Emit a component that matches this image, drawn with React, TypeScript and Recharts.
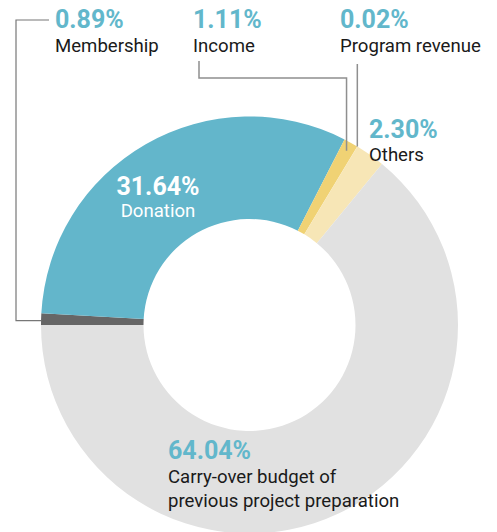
import React from 'react';
import { PieChart, Pie, Cell } from 'recharts';

// ---- data ----
const categories = [
  'Membership',
  'Donation',
  'Income',
  'Program revenue',
  'Others',
  'Carry-over budget of previous project preparation',
];
const shares = [0.89, 31.64, 1.11, 0.02, 2.3, 64.04];
const percentLabels = ['0.89%', '31.64%', '1.11%', '0.02%', '2.30%', '64.04%'];
const nameLines = [
  ['Membership'],
  ['Donation'],
  ['Income'],
  ['Program revenue'],
  ['Others'],
  ['Carry-over budget of', 'previous project preparation'],
];

const data = categories.map((name, i) => ({ name, value: shares[i] }));

// ---- styles / layout ----
const COLORS = ['#666666', '#63b6cb', '#f0d274', '#f3dc93', '#f7e6b6', '#e1e1e1'];
const ACCENT = '#62b7cb';
const FONT = 'Roboto, "Noto Sans", sans-serif';
const W = 497;
const H = 532;
const CX = 249.5;
const CY = 325;
const OUTER = 208.5;
const INNER = 106;

type LabelLayout = {
  x: number;
  y: number;
  anchor: 'start' | 'middle';
  pctColor: string;
  nameColor: string;
  lineGap: number;
};

const LAYOUT: LabelLayout[] = [
  { x: 55, y: 28, anchor: 'start', pctColor: ACCENT, nameColor: '#1a1a1a', lineGap: 24 },
  { x: 158, y: 195, anchor: 'middle', pctColor: '#ffffff', nameColor: '#ffffff', lineGap: 22 },
  { x: 193, y: 28, anchor: 'start', pctColor: ACCENT, nameColor: '#1a1a1a', lineGap: 24 },
  { x: 340, y: 28, anchor: 'start', pctColor: ACCENT, nameColor: '#1a1a1a', lineGap: 24 },
  { x: 369, y: 138, anchor: 'start', pctColor: ACCENT, nameColor: '#1a1a1a', lineGap: 23 },
  { x: 168, y: 459, anchor: 'start', pctColor: ACCENT, nameColor: '#1a1a1a', lineGap: 24 },
];

const RAD = Math.PI / 180;

const renderLabel = (props: any) => {
  const { cx, cy, midAngle, outerRadius, index } = props;
  const L = LAYOUT[index];
  const pt = (r: number) => ({
    x: cx + r * Math.cos(-midAngle * RAD),
    y: cy + r * Math.sin(-midAngle * RAD),
  });

  let leader: React.ReactNode = null;
  if (index === 0) {
    const p = pt(outerRadius);
    leader = (
      <path
        d={`M${p.x},${p.y + 1.5} H16 V20 H49`}
        fill="none"
        stroke="#777777"
        strokeWidth={1.2}
      />
    );
  } else if (index === 2) {
    const p = pt(outerRadius - 9);
    leader = (
      <path
        d={`M199,61 V78 H${p.x} V${p.y}`}
        fill="none"
        stroke="#8f8f8f"
        strokeWidth={1.5}
      />
    );
  } else if (index === 3) {
    const p = pt(outerRadius);
    leader = (
      <path
        d={`M${p.x},64 V${p.y}`}
        fill="none"
        stroke="#8f8f8f"
        strokeWidth={1.5}
      />
    );
  }

  return (
    <g key={`lbl-${index}`}>
      {leader}
      <text
        x={L.x}
        y={L.y}
        textAnchor={L.anchor}
        fill={L.pctColor}
        fontFamily={FONT}
        fontWeight={700}
        fontSize={25}
      >
        {percentLabels[index]}
      </text>
      {nameLines[index].map((ln, j) => (
        <text
          key={j}
          x={L.x}
          y={L.y + L.lineGap * (j + 1)}
          textAnchor={L.anchor}
          fill={L.nameColor}
          fontFamily={FONT}
          fontWeight={400}
          fontSize={18.6}
        >
          {ln}
        </text>
      ))}
    </g>
  );
};

export default function App() {
  return (
    <div style={{ position: 'absolute', left: 0, top: 0, width: W, height: H, background: '#ffffff' }}>
      <PieChart width={W} height={H} margin={{ top: 0, right: 0, bottom: 0, left: 0 }}>
        <Pie
          data={data}
          dataKey="value"
          nameKey="name"
          cx={CX}
          cy={CY}
          innerRadius={INNER}
          outerRadius={OUTER}
          startAngle={180}
          endAngle={-180}
          stroke="none"
          label={renderLabel}
          labelLine={false}
          isAnimationActive={false}
        >
          {data.map((d, i) => (
            <Cell key={d.name} fill={COLORS[i]} stroke="none" />
          ))}
        </Pie>
      </PieChart>
    </div>
  );
}
